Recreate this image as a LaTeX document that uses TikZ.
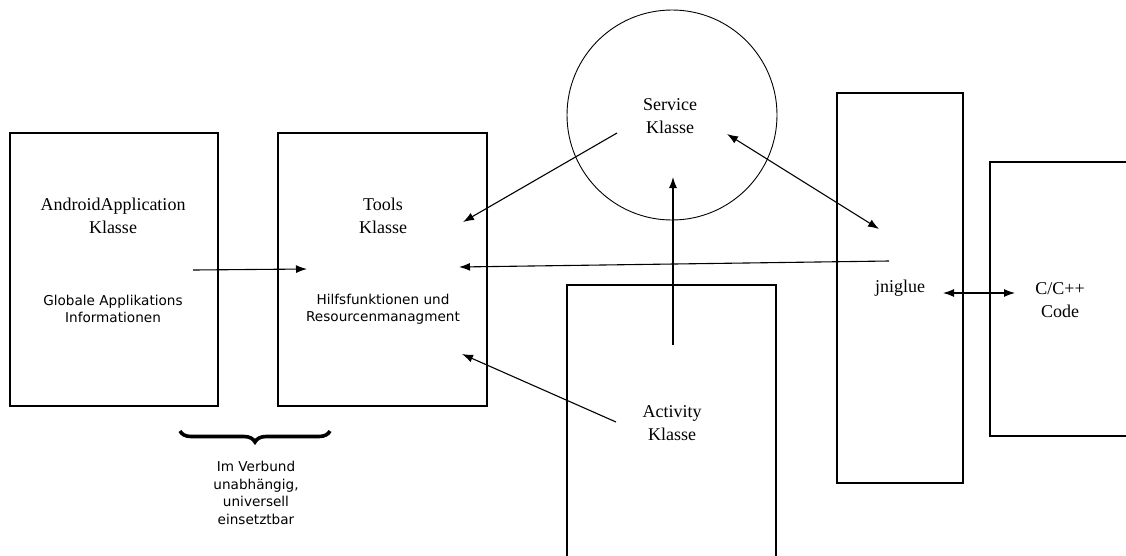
\documentclass[tikz,border=0pt]{standalone}
\usepackage{fontspec}
\setmainfont{Liberation Serif}
\newfontfamily\labelsans{DejaVu Sans}
\usetikzlibrary{arrows.meta,decorations.pathreplacing}
\begin{document}
\begin{tikzpicture}[x=1pt,y=-1pt,
  box/.style={draw,line width=1.2pt,rectangle,inner sep=0pt},
  title/.style={font=\fontsize{18}{23}\selectfont,align=center,inner sep=0pt},
  note/.style={font=\labelsans\fontsize{13.6}{17.5}\selectfont,align=center,inner sep=0pt},
  link/.style={line width=1.1pt,-{Latex[length=11pt,width=8pt]}},
  dlink/.style={line width=1.1pt,{Latex[length=11pt,width=8pt]}-{Latex[length=11pt,width=8pt]}}]
\useasboundingbox (0,0) rectangle (1126,555);
\clip (0,0) rectangle (1126,555);
\fill[white] (0,0) rectangle (1126,555);

% class boxes
\draw[box] (10,133) rectangle (218,406);
\draw[box] (278,133) rectangle (487,406);
\draw[box] (567,285) rectangle (776,600);
\draw[box] (837,93) rectangle (963,483);
\draw[box] (990,162) rectangle (1200,436);
\draw[line width=0.9pt] (672,115) circle (105);

% labels
\node[title] (app) at (113,216) {AndroidApplication\\Klasse};
\node[note] (appnote) at (113,309) {Globale Applikations\\Informationen};
\node[title] (tools) at (383,216) {Tools\\Klasse};
\node[note] (toolsnote) at (383,309) {Hilfsfunktionen und\\Resourcenmanagment};
\node[title] (service) at (670,116) {Service\\Klasse};
\node[title] (activity) at (672,423) {Activity\\Klasse};
\node[title] (jni) at (900,288) {jniglue};
\node[title] (ccode) at (1060,300) {C/C++\\Code};
\node[note] (verbund) at (256,493) {Im Verbund\\unabhängig,\\universell\\einsetztbar};

% connector end points
\coordinate (appOut) at (193,270);
\coordinate (toolsInA) at (307,269);
\coordinate (servOut) at (617,133);
\coordinate (toolsInS) at (463,222);
\coordinate (jniOut) at (889,261);
\coordinate (toolsInJ) at (459,267);
\coordinate (actOut) at (616,422);
\coordinate (toolsInAct) at (462,354);
\coordinate (actUp) at (673,345);
\coordinate (servIn) at (673,177);
\coordinate (servJ) at (727,134);
\coordinate (jniS) at (879,229);
\coordinate (jniC) at (943,293);
\coordinate (cJ) at (1015,293);

% connectors
\draw[link] (appOut) -- (toolsInA);
\draw[link] (servOut) -- (toolsInS);
\draw[link] (jniOut) -- (toolsInJ);
\draw[link] (actOut) -- (toolsInAct);
\draw[link] (actUp) -- (servIn);
\draw[dlink] (servJ) -- (jniS);
\draw[dlink] (jniC) -- (cJ);

% brace grouping the two boxes
\coordinate (braceL) at (180,431);
\coordinate (braceR) at (330,431);
\draw[line width=3.6pt,decorate,decoration={brace,mirror,amplitude=11pt,aspect=0.5}] (braceL) -- (braceR);
\end{tikzpicture}
\end{document}
